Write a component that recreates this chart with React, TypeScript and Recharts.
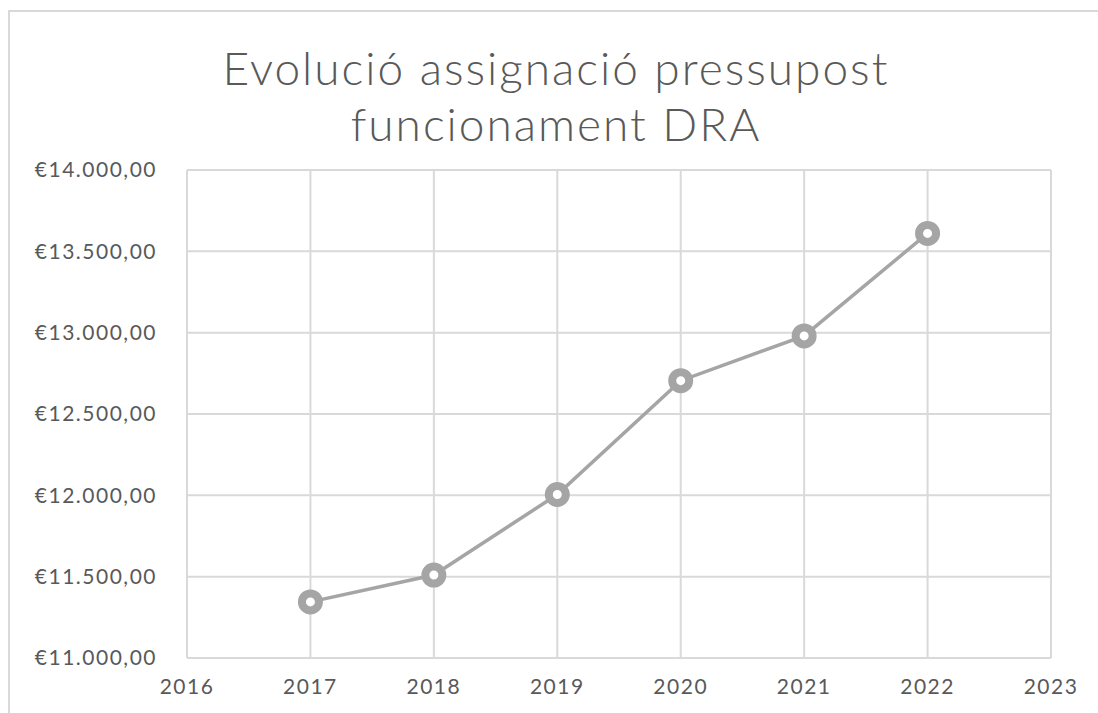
import { LineChart, Line, XAxis, YAxis, CartesianGrid } from "recharts";

const years = [2017, 2018, 2019, 2020, 2021, 2022];
const budget = [11345, 11510, 12005, 12705, 12980, 13610];
const xTicks = [2016, 2017, 2018, 2019, 2020, 2021, 2022, 2023];
const yTicks = [11000, 11500, 12000, 12500, 13000, 13500, 14000];
const titleLines = ["Evolució assignació pressupost", "funcionament DRA"];

const data = years.map((y, i) => ({ year: y, value: budget[i] }));

const fmtEuro = (v: number) => {
  const [int, dec] = v.toFixed(2).split(".");
  return "€" + int.replace(/\B(?=(\d{3})+(?!\d))/g, ".") + "," + dec;
};

const font = "Lato, 'Open Sans', sans-serif";
const tickStyle = { fill: "#595959", fontSize: 21, fontFamily: font, letterSpacing: 1.5 };

export default function App() {
  return (
    <div style={{ position: "absolute", left: 0, top: 0, width: 1098, height: 713, background: "#fff", fontFamily: font }}>
      <div
        style={{
          position: "absolute",
          left: 8,
          top: 10,
          width: 1200,
          height: 800,
          border: "2px solid #d9d9d9",
        }}
      />
      <div
        style={{
          position: "absolute",
          left: 0,
          top: 40,
          width: 1112,
          textAlign: "center",
          color: "#595959",
          fontSize: 46,
          fontWeight: 300,
          letterSpacing: 2,
          lineHeight: "56px",
        }}
      >
        {titleLines.map((t) => (
          <div key={t}>{t}</div>
        ))}
      </div>
      <div style={{ position: "absolute", left: 0, top: 0 }}>
        <LineChart width={1098} height={713} data={data} margin={{ top: 170, right: 47, left: 0, bottom: 0 }}>
          <CartesianGrid stroke="#d9d9d9" strokeWidth={2} />
          <XAxis
            dataKey="year"
            type="number"
            domain={[2016, 2023]}
            ticks={xTicks}
            tickSize={0}
            tickMargin={21}
            height={55}
            axisLine={{ stroke: "#d9d9d9", strokeWidth: 2 }}
            tick={tickStyle}
          />
          <YAxis
            type="number"
            domain={[11000, 14000]}
            ticks={yTicks}
            width={187}
            tickSize={0}
            tickMargin={30}
            axisLine={false}
            tickFormatter={fmtEuro}
            tick={tickStyle}
          />
          <Line
            dataKey="value"
            stroke="#a5a5a5"
            strokeWidth={3.5}
            dot={{ r: 8.5, fill: "#fff", stroke: "#a5a5a5", strokeWidth: 8 }}
            isAnimationActive={false}
          />
        </LineChart>
      </div>
    </div>
  );
}
